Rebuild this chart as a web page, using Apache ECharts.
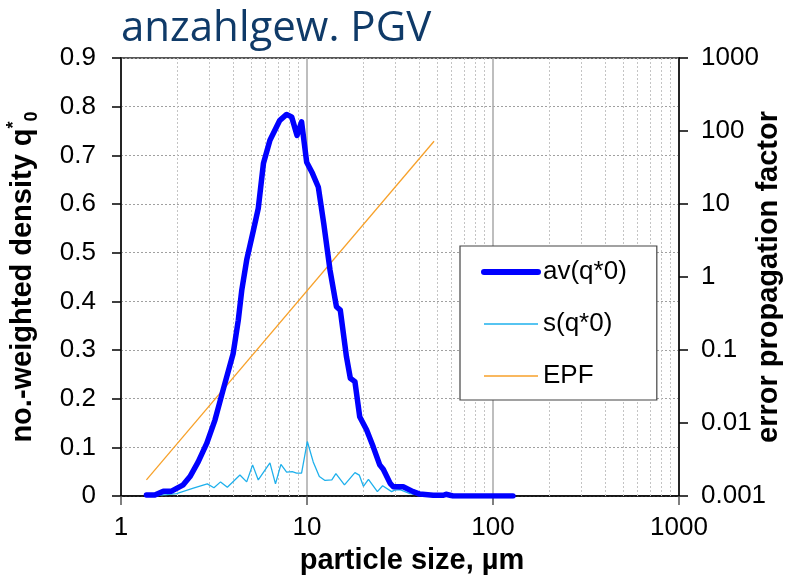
<!DOCTYPE html>
<html>
<head>
<meta charset="utf-8">
<script src="https://cdn.jsdelivr.net/npm/echarts@6/dist/echarts.min.js"></script>
<style>html,body{margin:0;padding:0;background:#fff}#c{width:792px;height:582px}</style>
</head>
<body>
<div id="c"></div>
<script>
// particle size (µm) and no.-weighted density av(q*0)
var avX = [1.37,1.52,1.69,1.87,2.16,2.35,2.60,2.89,3.20,3.54,4.01,4.27,4.46,4.74,5.15,5.47,5.83,6.32,7.14,7.77,8.27,8.84,9.35,9.96,10.7,11.5,12.3,13.3,14.4,15.1,16.3,17.1,18.1,19.2,20.9,22.7,24.6,25.7,28.0,29.1,32.9,37.2,40.4,47.7,54.1,55.9,61.0,128];
var avY = [0.002,0.002,0.010,0.010,0.023,0.040,0.070,0.108,0.156,0.218,0.293,0.361,0.423,0.485,0.546,0.591,0.683,0.731,0.772,0.784,0.779,0.741,0.769,0.686,0.663,0.635,0.560,0.464,0.389,0.382,0.286,0.242,0.235,0.163,0.136,0.101,0.064,0.055,0.026,0.019,0.019,0.009,0.004,0.0015,0.0015,0.0035,0.000,0.000];
// standard deviation s(q*0)
var sX = [1.37,1.76,1.99,2.45,2.91,3.16,3.43,3.73,4.36,4.74,5.10,5.47,6.32,6.77,7.24,7.77,8.33,8.79,9.35,10.04,10.8,11.65,12.5,13.6,14.3,15.9,18.1,19.1,20.1,21.4,23.9,25.5,28.5,29.6,31.6,35.8,40.4,50,128];
var sY = [0.000,0.003,0.005,0.016,0.025,0.017,0.029,0.018,0.043,0.029,0.064,0.033,0.068,0.025,0.065,0.049,0.050,0.047,0.047,0.112,0.070,0.040,0.032,0.033,0.046,0.023,0.048,0.043,0.020,0.034,0.009,0.021,0.009,0.012,0.013,0.005,0.002,0.000,0.000];
// error propagation factor (straight line in log-log)
var epfX = [1.37, 48.2];
var epfY = [0.00166, 72.3];
// minor vertical grid positions
var minorX = [2,3,4,5,6,7,8,9,20,30,40,50,60,70,80,90,200,300,400,500,600,700,800,900];
var seriesNames = ['av(q*0)', 's(q*0)', 'EPF'];

function pairs(xs, ys){ return xs.map(function(x,i){ return [x, ys[i]]; }); }
function fmt(v){ return String(parseFloat(Number(v).toPrecision(6))); }

var FONT = 'Liberation Sans, Arial, sans-serif';
var chart = echarts.init(document.getElementById('c'));
chart.setOption({
  animation: false,
  backgroundColor: '#fff',
  textStyle: { fontFamily: FONT, color: '#000' },
  title: {
    text: 'anzahlgew. PGV', left: 121, top: 8, padding: 0,
    textStyle: { fontFamily: 'Open Sans', fontSize: 42, fontWeight: 'normal', color: '#0f3a68' }
  },
  grid: { left: 121, right: 113, top: 58, bottom: 86, show: true, borderColor: '#222', borderWidth: 1.5, outerBoundsMode: 'none', containLabel: false },
  legend: {
    orient: 'vertical', left: 460, top: 246,
    data: [
      { name: seriesNames[0], lineStyle: { width: 6 } },
      { name: seriesNames[1], lineStyle: { width: 1.6 } },
      { name: seriesNames[2], lineStyle: { width: 1.6 } }
    ],
    itemWidth: 54, itemHeight: 14, itemGap: 26,
    itemStyle: { opacity: 0 },
    padding: [13, 30, 11, 21],
    borderColor: '#444', borderWidth: 1.2, backgroundColor: '#fff',
    textStyle: { fontSize: 26, color: '#000', fontFamily: FONT },
    z: 10
  },
  xAxis: {
    type: 'log', logBase: 10, min: 1, max: 1000,
    name: 'particle size, µm', nameLocation: 'middle', nameGap: 50, nameMoveOverlap: false,
    nameTextStyle: { fontSize: 29, fontWeight: 'bold', color: '#000', padding: [0, 0, 0, 24] },
    axisLine: { show: true, onZero: false, lineStyle: { color: '#000', width: 1.5 } },
    axisTick: { show: true, length: 9, lineStyle: { color: '#555', width: 1.5 } },
    axisLabel: { fontSize: 26, color: '#000', margin: 19, formatter: fmt },
    splitLine: { show: true, lineStyle: { color: '#a8a8a8', width: 1.5 } },
    minorTick: { show: false }, minorSplitLine: { show: false }
  },
  yAxis: [{
    type: 'value', min: 0, max: 0.9, interval: 0.1,
    name: '{b|no.-weighted density q}{sup|*}{sub|0}', nameLocation: 'middle', nameGap: 80, nameRotate: 90, nameMoveOverlap: false,
    nameTextStyle: {
      rich: {
        b: { fontSize: 29, fontWeight: 'bold', color: '#000', lineHeight: 36, fontFamily: FONT },
        sup: { fontSize: 18, fontWeight: 'bold', color: '#000', verticalAlign: 'top', lineHeight: 36, fontFamily: FONT },
        sub: { fontSize: 18, fontWeight: 'bold', color: '#000', verticalAlign: 'bottom', lineHeight: 36, fontFamily: FONT }
      }
    },
    axisLine: { show: true, lineStyle: { color: '#000', width: 1.5 } },
    axisTick: { show: true, length: 9, lineStyle: { color: '#000', width: 1.5 } },
    axisLabel: { fontSize: 26, color: '#000', margin: 25, formatter: fmt },
    splitLine: { show: true, lineStyle: { color: '#a0a0a0', width: 1, type: [2, 2] } }
  }, {
    type: 'log', logBase: 10, min: 0.001, max: 1000,
    position: 'right',
    name: 'error propagation factor', nameLocation: 'middle', nameGap: 75, nameRotate: 90, nameMoveOverlap: false,
    nameTextStyle: { fontSize: 29, fontWeight: 'bold', color: '#000' },
    axisLine: { show: true, lineStyle: { color: '#000', width: 1.5 } },
    axisTick: { show: true, length: 9, lineStyle: { color: '#000', width: 1.5 } },
    axisLabel: { fontSize: 26, color: '#000', margin: 22, formatter: fmt },
    splitLine: { show: false }
  }],
  series: [{
    name: 's(q*0)', type: 'line', data: pairs(sX, sY), yAxisIndex: 0,
    symbol: 'none', smooth: false, z: 3,
    lineStyle: { color: '#1eb0ec', width: 1.3 }, itemStyle: { color: '#1eb0ec' },
    markLine: {
      silent: true, symbol: ['none', 'none'], label: { show: false },
      lineStyle: { color: '#c4c4c4', width: 1, type: [2, 2] },
      data: minorX.map(function(v){ return { xAxis: v }; }),
      z: 1
    }
  }, {
    name: 'EPF', type: 'line', data: pairs(epfX, epfY), yAxisIndex: 1,
    symbol: 'none', z: 4,
    lineStyle: { color: '#f7a12a', width: 1.3 }, itemStyle: { color: '#f7a12a' }
  }, {
    name: 'av(q*0)', type: 'line', data: pairs(avX, avY), yAxisIndex: 0,
    symbol: 'none', z: 5,
    lineStyle: { color: '#0000ff', width: 5.5, cap: 'round', join: 'round' }, itemStyle: { color: '#0000ff' }
  }]
});
</script>
</body>
</html>
